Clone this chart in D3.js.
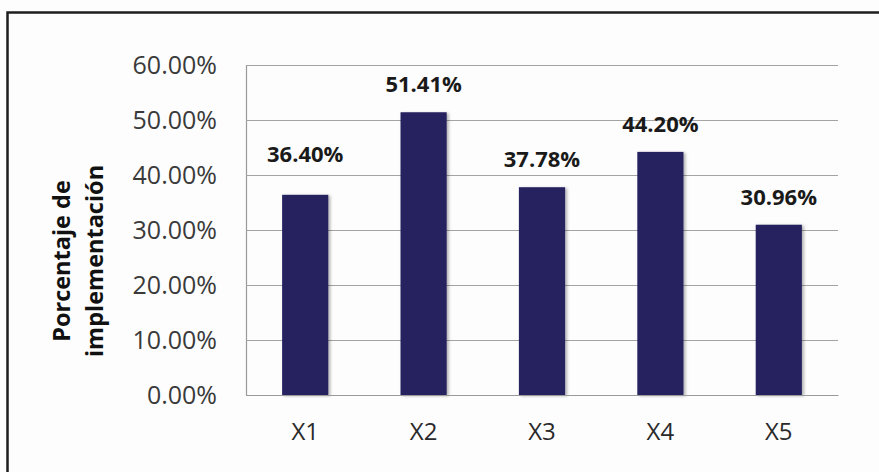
<!DOCTYPE html>
<html>
<head>
<meta charset="utf-8">
<script src="https://cdn.jsdelivr.net/npm/d3@7"></script>
<style>
  html, body { margin: 0; padding: 0; background: #fdfdfd; }
  svg { display: block; }
</style>
</head>
<body>
<svg id="chart" width="879" height="472"></svg>
<script>
// Implementation percentage per category
const categories = ["X1", "X2", "X3", "X4", "X5"];
const values = [36.40, 51.41, 37.78, 44.20, 30.96];
const yTicks = [0, 10, 20, 30, 40, 50, 60];
const titleLines = ["Porcentaje de", "implementación"];
// extra lift (px) for labels that sit higher than the rest
const labelLift = [13, 0, 0, 0, 0];

const svg = d3.select("#chart");
const W = 879, H = 472;
const margin = { left: 246, right: 41, top: 65, bottom: 77 };

// outer frame (bottom/right run past the visible area)
svg.append("rect")
  .attr("x", 7.5).attr("y", 12.5)
  .attr("width", W + 10).attr("height", H + 10)
  .attr("fill", "#fdfdfd")
  .attr("stroke", "#1e1e1e").attr("stroke-width", 2.5);

const x = d3.scaleBand()
  .domain(categories)
  .range([margin.left, W - margin.right])
  .paddingInner(0.61).paddingOuter(0.305);

const y = d3.scaleLinear()
  .domain([0, 60])
  .range([H - margin.bottom, margin.top]);

const defs = svg.append("defs");
const f = defs.append("filter").attr("id", "shadow")
  .attr("x", "-20%").attr("y", "-10%").attr("width", "150%").attr("height", "130%");
f.append("feDropShadow").attr("dx", 2).attr("dy", 1).attr("stdDeviation", 1.5)
  .attr("flood-color", "#000").attr("flood-opacity", 0.3);

// horizontal gridlines
const yAxis = d3.axisLeft(y)
  .tickValues(yTicks)
  .tickSize(-(W - margin.left - margin.right))
  .tickPadding(29)
  .tickFormat(d => d.toFixed(2) + "%");

const gy = svg.append("g")
  .attr("transform", `translate(${margin.left},0)`)
  .call(yAxis);
gy.select(".domain").attr("stroke", "#9a9a9a").attr("stroke-width", 1.2);
gy.selectAll(".tick line").attr("stroke", "#a3a3a3").attr("stroke-width", 1.2);
gy.selectAll(".tick text")
  .attr("fill", "#3a3a3a")
  .style("font-family", "'Open Sans', sans-serif")
  .style("font-size", "25px");

// bars
svg.append("g").selectAll("rect")
  .data(values)
  .join("rect")
  .attr("x", (d, i) => x(categories[i]))
  .attr("y", d => y(d))
  .attr("width", x.bandwidth())
  .attr("height", d => y(0) - y(d))
  .attr("fill", "#26235f")
  .attr("filter", "url(#shadow)");

// value labels
svg.append("g").selectAll("text")
  .data(values)
  .join("text")
  .attr("x", (d, i) => x(categories[i]) + x.bandwidth() / 2)
  .attr("y", (d, i) => y(d) - 20 - labelLift[i])
  .attr("text-anchor", "middle")
  .attr("fill", "#1a1a1a")
  .style("font-family", "'Open Sans', sans-serif")
  .style("font-weight", "bold")
  .style("font-size", "22px")
  .text(d => d.toFixed(2) + "%");

// category axis labels
const xAxis = d3.axisBottom(x).tickSize(0).tickPadding(28);
const gx = svg.append("g")
  .attr("transform", `translate(0,${H - margin.bottom})`)
  .call(xAxis);
gx.select(".domain").attr("stroke", "#9a9a9a").attr("stroke-width", 1.2);
gx.selectAll(".tick text")
  .attr("fill", "#2a2a2a")
  .style("font-family", "'Open Sans', sans-serif")
  .style("font-size", "24px");

// vertical axis title
const title = svg.append("text")
  .attr("transform", "translate(79,261) rotate(-90)")
  .attr("text-anchor", "middle")
  .attr("fill", "#111")
  .style("font-family", "'Open Sans', sans-serif")
  .style("font-weight", "bold")
  .style("font-size", "23.5px");
title.selectAll("tspan")
  .data(titleLines)
  .join("tspan")
  .attr("x", 0)
  .attr("dy", (d, i) => i === 0 ? "-0.4em" : "1.4em")
  .text(d => d);
</script>
</body>
</html>
